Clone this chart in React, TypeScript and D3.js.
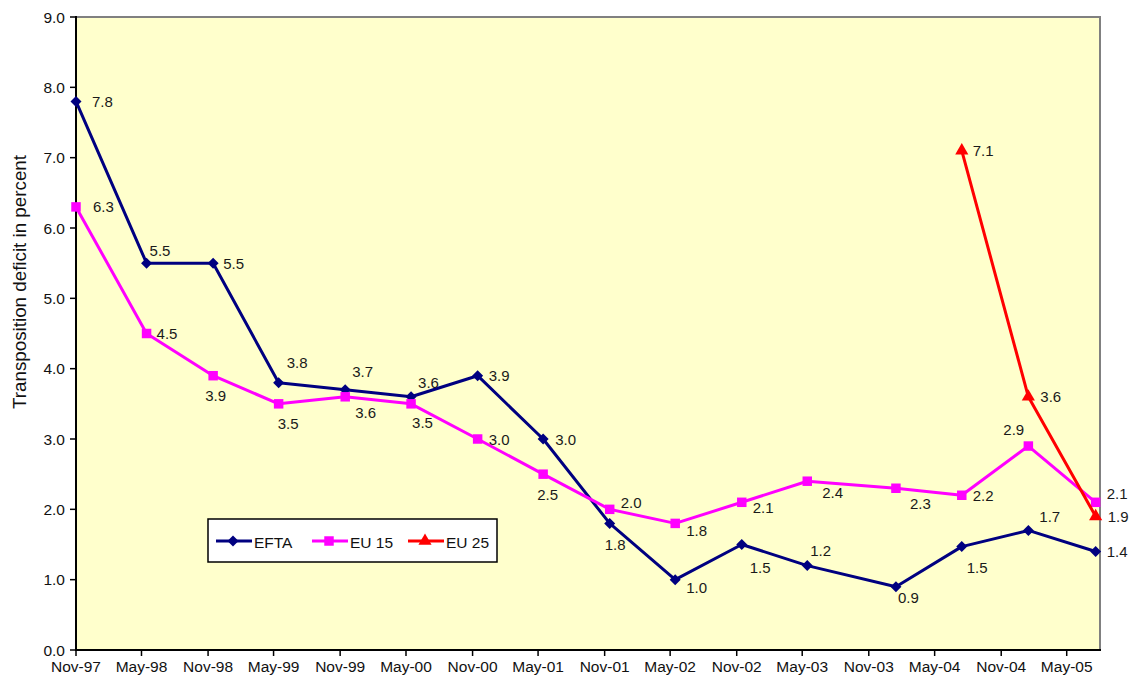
import React from "react";
import * as d3 from "d3";

// ---- data ----
const dates: string[] = [
  "1997-11-01", "1998-05-15", "1998-11-15", "1999-05-15", "1999-11-15",
  "2000-05-15", "2000-11-15", "2001-05-15", "2001-11-15", "2002-05-15",
  "2002-11-15", "2003-05-15", "2004-01-15", "2004-07-15", "2005-01-15",
  "2005-07-20",
];
const eftaValues: number[] = [7.8, 5.5, 5.5, 3.8, 3.7, 3.6, 3.9, 3.0, 1.8, 1.0, 1.5, 1.2, 0.9, 1.47, 1.7, 1.4];
const eu15Values: number[] = [6.3, 4.5, 3.9, 3.5, 3.6, 3.5, 3.0, 2.5, 2.0, 1.8, 2.1, 2.4, 2.3, 2.2, 2.9, 2.1];
const eu25Dates: string[] = ["2004-07-15", "2005-01-15", "2005-07-20"];
const eu25Values: number[] = [7.1, 3.6, 1.9];
const xTickLabels: string[] = [
  "Nov-97", "May-98", "Nov-98", "May-99", "Nov-99", "May-00", "Nov-00", "May-01",
  "Nov-01", "May-02", "Nov-02", "May-03", "Nov-03", "May-04", "Nov-04", "May-05",
];
const yTicks: number[] = [0, 1, 2, 3, 4, 5, 6, 7, 8, 9];
const seriesNames: string[] = ["EFTA", "EU 15", "EU 25"];

// label placement (dx from marker to text start, dy from marker to text middle)
const eftaLabelOffsets: [number, number][] = [
  [16, 0], [3, -13], [10, 0], [8, -20], [7, -18], [7, -14], [11, 0], [12, 0],
  [-5, 21], [11, 8], [8, 23], [3, -15], [2, 11], [5, 21], [11, -14], [11, 0],
];
const eu15LabelOffsets: [number, number][] = [
  [17, 0], [10, 0], [-8, 20], [-1, 20], [10, 16], [1, 19], [11, 0], [-6, 20],
  [11, -7], [11, 7], [11, 5], [15, 11], [14, 15], [11, 0], [-25, -17], [11, -9],
];
const eu25LabelOffsets: [number, number][] = [[11, 0], [12, 0], [12, 0]];

const W = 1131;
const H = 684;
const m = { left: 76, right: 1100, top: 17, bottom: 650 };
const FONT = "'Liberation Sans', Arial, sans-serif";

export default function App() {
  const parse = d3.timeParse("%Y-%m-%d");
  const x = d3
    .scaleTime()
    .domain([new Date(1997, 10, 1), new Date(2005, 7, 1)])
    .range([m.left, m.right]);
  const y = d3.scaleLinear().domain([0, 9]).range([m.bottom, m.top]);

  const xTicks = xTickLabels.map((_, i) => d3.timeMonth.offset(new Date(1997, 10, 1), i * 6));

  const line = d3
    .line<[Date, number]>()
    .x((d) => x(d[0]))
    .y((d) => y(d[1]));

  const efta: [Date, number][] = dates.map((d, i) => [parse(d)!, eftaValues[i]]);
  const eu15: [Date, number][] = dates.map((d, i) => [parse(d)!, eu15Values[i]]);
  const eu25: [Date, number][] = eu25Dates.map((d, i) => [parse(d)!, eu25Values[i]]);

  const diamond = "M0,-5.5L5.5,0L0,5.5L-5.5,0Z";
  const square = d3.symbol(d3.symbolSquare, 90)()!;
  const triangle = d3.symbol(d3.symbolTriangle, 75)()!;

  const series = [
    { name: seriesNames[0], data: efta, color: "#000080", marker: diamond, offs: eftaLabelOffsets },
    { name: seriesNames[1], data: eu15, color: "#FF00FF", marker: square, offs: eu15LabelOffsets },
    { name: seriesNames[2], data: eu25, color: "#FF0000", marker: triangle, offs: eu25LabelOffsets },
  ];

  const fmt = d3.format(".1f");

  return (
    <svg
      width={W}
      height={H}
      style={{ position: "absolute", left: 0, top: 0, background: "#fff" }}
      fontFamily={FONT}
    >
      {/* plot area */}
      <rect x={m.left} y={m.top} width={m.right - m.left} height={m.bottom - m.top} fill="#FFFFCC" />
      <line x1={m.left} x2={m.right + 1} y1={m.top} y2={m.top} stroke="#808080" strokeWidth={2} />
      <line x1={m.right} x2={m.right} y1={m.top} y2={m.bottom} stroke="#808080" strokeWidth={2} />

      {/* y axis */}
      {yTicks.map((t) => (
        <g key={"y" + t}>
          <line x1={m.left - 6} x2={m.left} y1={y(t)} y2={y(t)} stroke="#000" strokeWidth={1.5} />
          <text x={m.left - 11} y={y(t)} textAnchor="end" dominantBaseline="central" fontSize={15.5} fill="#111">
            {fmt(t)}
          </text>
        </g>
      ))}
      {/* x axis */}
      {xTicks.map((t, i) => (
        <g key={"x" + i}>
          <line x1={x(t)} x2={x(t)} y1={m.bottom} y2={m.bottom + 6} stroke="#000" strokeWidth={1.5} />
          <text x={x(t)} y={m.bottom + 16} textAnchor="middle" dominantBaseline="central" fontSize={15.5} fill="#111">
            {xTickLabels[i]}
          </text>
        </g>
      ))}
      <line x1={m.left} x2={m.left} y1={m.top - 1} y2={m.bottom + 1} stroke="#000" strokeWidth={2} />
      <line x1={m.left - 1} x2={m.right + 1} y1={m.bottom} y2={m.bottom} stroke="#000" strokeWidth={2} />

      <text
        transform="translate(19,282) rotate(-90)"
        textAnchor="middle"
        dominantBaseline="central"
        fontSize={18.8}
        fill="#111"
      >
        Transposition deficit in percent
      </text>

      {/* series */}
      {series.map((s) => (
        <g key={s.name}>
          <path d={line(s.data)!} fill="none" stroke={s.color} strokeWidth={3} strokeLinejoin="round" />
          {s.data.map((d, i) => (
            <path key={i} d={s.marker} transform={`translate(${x(d[0])},${y(d[1])})`} fill={s.color} />
          ))}
        </g>
      ))}
      {series.map((s) => (
        <g key={s.name + "l"}>
          {s.data.map((d, i) => (
            <text
              key={i}
              x={x(d[0]) + s.offs[i][0]}
              y={y(d[1]) + s.offs[i][1]}
              dominantBaseline="central"
              fontSize={15}
              fill="#1a1a1a"
            >
              {fmt(d[1])}
            </text>
          ))}
        </g>
      ))}

      {/* legend */}
      <g>
        <rect x={208} y={519} width={289} height={43} fill="#fff" stroke="#000" strokeWidth={1.5} />
        {series.map((s, i) => {
          const lx = 216 + i * 96;
          return (
            <g key={s.name + "lg"}>
              <line x1={lx} x2={lx + 36} y1={541} y2={541} stroke={s.color} strokeWidth={3} />
              <path d={s.marker} transform={`translate(${lx + 17},541)`} fill={s.color} />
              <text x={lx + 38} y={542} dominantBaseline="central" fontSize={15.5} fill="#111">
                {s.name}
              </text>
            </g>
          );
        })}
      </g>
    </svg>
  );
}
